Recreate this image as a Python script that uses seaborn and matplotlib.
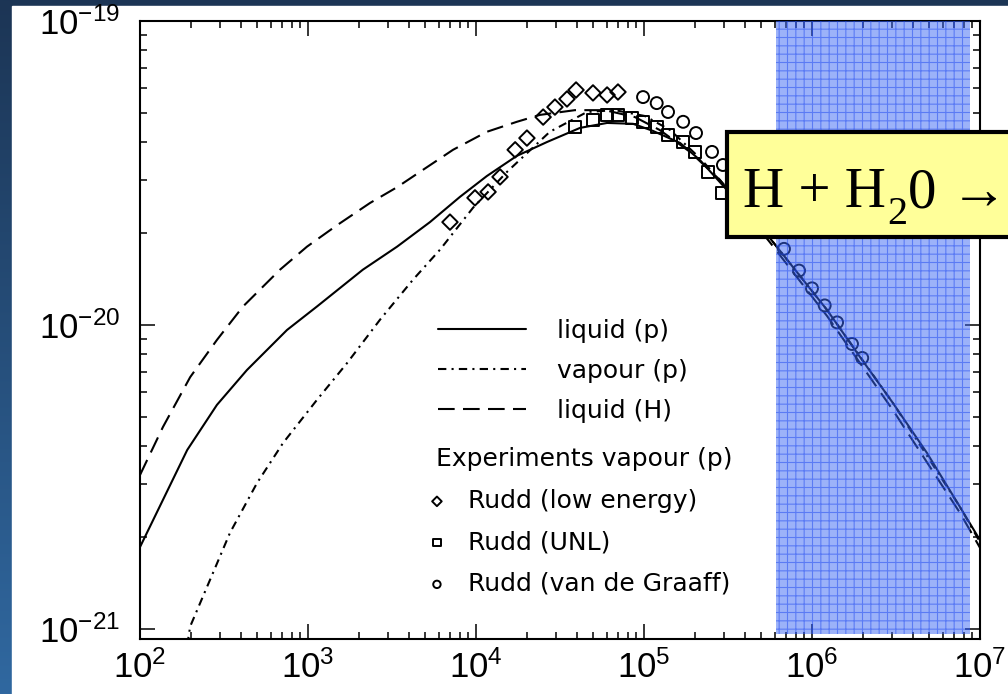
import seaborn as sns
import matplotlib.pyplot as plt
from matplotlib.patches import Rectangle
from matplotlib.colors import LinearSegmentedColormap
from matplotlib.ticker import LogLocator, FixedLocator, FuncFormatter, NullFormatter
import numpy as np

# proton energy (eV) and ionisation cross section (cm^2)
e_liq_p = [100, 137, 191, 287, 433, 750, 1130, 2120, 3390, 5320, 8030, 11600, 17500,
           26500, 41600, 60300, 86100, 113000, 164000, 215000, 283000, 562000,
           1230000, 1930000, 3030000, 4840000, 7600000, 10000000]
s_liq_p = [1.86e-21, 2.66e-21, 3.88e-21, 5.46e-21, 7.11e-21, 9.63e-21, 1.15e-20, 1.52e-20,
           1.81e-20, 2.18e-20, 2.64e-20, 3.09e-20, 3.60e-20, 4.00e-20, 4.45e-20, 4.62e-20,
           4.59e-20, 4.35e-20, 3.97e-20, 3.49e-20, 2.95e-20, 1.93e-20, 1.12e-20, 7.85e-21,
           5.54e-21, 3.79e-21, 2.52e-21, 1.96e-21]

e_vap_p = [191, 199, 272, 343, 497, 710, 1130, 1710, 2680, 4220, 6110, 9600, 15300, 27500,
           45800, 67200, 101000, 143000, 215000, 283000, 562000, 1230000, 3030000,
           7600000, 10000000]
s_vap_p = [8.85e-22, 1.02e-21, 1.53e-21, 2.07e-21, 3.02e-21, 4.09e-21, 5.67e-21, 7.50e-21,
           1.04e-20, 1.41e-20, 1.77e-20, 2.43e-20, 3.19e-20, 4.32e-20, 5.02e-20, 5.09e-20,
           4.87e-20, 4.38e-20, 3.54e-20, 3.00e-20, 1.93e-20, 1.12e-20, 5.54e-21, 2.52e-21,
           1.93e-21]

e_liq_h = [100, 137, 199, 287, 410, 681, 986, 1490, 2340, 3390, 4840, 7300, 11600, 17500,
           24000, 38800, 58600, 88300, 124000, 188000, 283000, 562000, 1230000, 3030000,
           7600000, 10000000]
s_liq_h = [3.21e-21, 4.62e-21, 6.74e-21, 8.93e-21, 1.15e-20, 1.52e-20, 1.81e-20, 2.13e-20,
           2.52e-20, 2.84e-20, 3.24e-20, 3.77e-20, 4.32e-20, 4.66e-20, 4.91e-20, 5.09e-20,
           5.09e-20, 4.83e-20, 4.38e-20, 3.71e-20, 3.00e-20, 1.87e-20, 1.07e-20, 5.25e-21,
           2.41e-21, 1.85e-21]

e_low = [7000, 9860, 11800, 13900, 17100, 20100, 25100, 29500, 34800, 39400, 49700, 60300, 70000]
s_low = [2.18e-20, 2.62e-20, 2.74e-20, 3.07e-20, 3.77e-20, 4.12e-20, 4.83e-20, 5.21e-20,
         5.54e-20, 5.93e-20, 5.80e-20, 5.71e-20, 5.84e-20]

e_unl = [38800, 49700, 60300, 70000, 84900, 98700, 119000, 139000, 171000, 201000, 241000, 291000]
s_unl = [4.48e-20, 4.72e-20, 4.91e-20, 4.91e-20, 4.80e-20, 4.66e-20, 4.48e-20, 4.22e-20,
         4.00e-20, 3.71e-20, 3.19e-20, 2.72e-20]

e_vdg = [98700, 119000, 139000, 171000, 204000, 254000, 295000, 681000, 837000, 1000000,
         1190000, 1410000, 1730000, 1990000]
s_vdg = [5.62e-20, 5.37e-20, 5.02e-20, 4.66e-20, 4.28e-20, 3.71e-20, 3.36e-20, 1.78e-20,
         1.51e-20, 1.32e-20, 1.16e-20, 1.02e-20, 8.66e-21, 7.79e-21]

x_ticks = [1e2, 1e3, 1e4, 1e5, 1e6, 1e7]
y_ticks = [1e-21, 1e-20, 1e-19]
line_labels = ['liquid (p)', 'vapour (p)', 'liquid (H)']
exp_title = 'Experiments vapour (p)'
exp_labels = ['Rudd (low energy)', 'Rudd (UNL)', 'Rudd (van de Graaff)']
box_parts = ['H + H', '2', '0 →']

sns.set_style('ticks')
plt.rcParams['font.family'] = ['DejaVu Sans']
plt.rcParams['text.color'] = 'black'
plt.rcParams['mathtext.fontset'] = 'custom'
plt.rcParams['mathtext.rm'] = 'Liberation Sans'
plt.rcParams['mathtext.it'] = 'Liberation Sans:italic'
plt.rcParams['mathtext.bf'] = 'Liberation Sans:bold'
plt.rcParams['hatch.linewidth'] = 0.8

W, H = 1008, 694
fig = plt.figure(figsize=(W / 100, H / 100), dpi=100)

# slide background + white panel
bg = fig.add_axes([0, 0, 1, 1], zorder=-5)
bg.axis('off')
cmap = LinearSegmentedColormap.from_list('slide', ['#1c3555', '#3068a0'])
bg.imshow(np.linspace(0, 1, 256).reshape(-1, 1), cmap=cmap, aspect='auto',
          extent=[0, 1, 0, 1], origin='upper')
bg.add_patch(Rectangle((12 / W, 0), 1, 1 - 6 / H, color='white', transform=bg.transAxes))
bg.set_xlim(0, 1)
bg.set_ylim(0, 1)

ax = fig.add_axes([140 / W, 1 - 639 / H, 840 / W, 618 / H])
ax.set_facecolor('white')

styles = ['-', (0, (4, 2.5, 1, 2.5)), (0, (8, 4))]
curves = [(e_liq_p, s_liq_p), (e_vap_p, s_vap_p), (e_liq_h, s_liq_h)]
for (ex, sx), ls in zip(curves, styles):
    sns.lineplot(x=ex, y=sx, ax=ax, color='black', linewidth=1.5, linestyle=ls,
                 estimator=None, sort=False, zorder=2)
line_handles = list(ax.get_lines())

markers = [('D', 62, e_low, s_low), ('s', 70, e_unl, s_unl), ('o', 74, e_vdg, s_vdg)]
for m, size, ex, sx in markers:
    sns.scatterplot(x=ex, y=sx, ax=ax, marker=m, s=size, facecolor='none',
                    edgecolor='black', linewidth=1.4, zorder=3)
marker_handles = list(ax.collections)

ax.set_xscale('log')
ax.set_yscale('log')
ax.set_xlim(1e2, 1e7)
ax.set_ylim(9.27e-22, 1e-19)

# highlighted energy band
ax.axvspan(6.1e5, 8.7e6, ymin=0.008, ymax=1, facecolor='#3a66f5', edgecolor='#1c46f0',
           hatch='++', alpha=0.5, linewidth=0, zorder=4)

fmt = FuncFormatter(lambda v, p: r'$\mathrm{10^{%d}}$' % round(np.log10(v)))
ax.xaxis.set_major_locator(FixedLocator(x_ticks))
ax.yaxis.set_major_locator(FixedLocator(y_ticks))
ax.xaxis.set_major_formatter(fmt)
ax.yaxis.set_major_formatter(fmt)
ax.xaxis.set_minor_locator(LogLocator(base=10, subs=np.arange(2, 10)))
ax.yaxis.set_minor_locator(LogLocator(base=10, subs=np.arange(2, 10)))
ax.xaxis.set_minor_formatter(NullFormatter())
ax.yaxis.set_minor_formatter(NullFormatter())
ax.tick_params(which='both', direction='in', top=True, right=True, width=1.1, color='black')
ax.tick_params(which='major', length=11, labelsize=25, labelcolor='black')
ax.tick_params(axis='x', which='major', pad=8)
ax.tick_params(axis='y', which='major', pad=14)
ax.tick_params(which='minor', length=5)
for sp in ax.spines.values():
    sp.set_color('black')
    sp.set_linewidth(1.5)

leg1 = ax.legend(line_handles, line_labels, loc='upper left', bbox_to_anchor=(0.355, 0.518),
                 frameon=False, fontsize=18, handlelength=3.5, handletextpad=1.25,
                 labelspacing=0.64, borderpad=0, borderaxespad=0)
leg1.set_zorder(6)
ax.add_artist(leg1)
leg2 = ax.legend(marker_handles, exp_labels, title=exp_title, title_fontsize=18,
                 loc='upper left', bbox_to_anchor=(0.352, 0.31), frameon=False, fontsize=18,
                 handlelength=0.1, handletextpad=1.2, labelspacing=0.7, markerscale=0.62,
                 scatterpoints=1, borderpad=0, borderaxespad=0, alignment='left')
leg2.set_zorder(6)

# yellow label box
fig.patches.append(Rectangle((727 / W, 1 - 237 / H), 0.4, 105 / H, facecolor='#ffff99',
                             edgecolor='black', linewidth=3, transform=fig.transFigure,
                             figure=fig, zorder=10))
serif = ['Liberation Serif', 'DejaVu Serif']
renderer = fig.canvas.get_renderer()
x_px, base_px = 743, H - 207
sizes = [41, 29, 41]
drops = [0, 17, 0]
for part, fs, dy in zip(box_parts, sizes, drops):
    t = fig.text(x_px / W, (base_px - dy) / H, part, fontsize=fs, family=serif,
                 va='baseline', ha='left', color='black', zorder=11)
    x_px = t.get_window_extent(renderer).x1 + 1

fig.savefig('out.png', dpi=100)
